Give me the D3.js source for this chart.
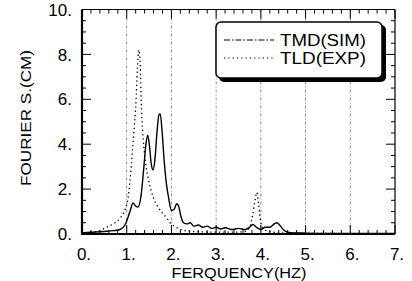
<!DOCTYPE html>
<html>
<head>
<meta charset="utf-8">
<script src="https://cdn.jsdelivr.net/npm/d3@7"></script>
<style>
  body { margin: 0; background: #fff; }
  svg { display: block; font-family: "Liberation Sans", Arial, sans-serif; }
</style>
</head>
<body>
<script>
// data
const xTicks = [0, 1, 2, 3, 4, 5, 6, 7];
const yTicks = [0, 2, 4, 6, 8, 10];
const gridX = [1, 2, 3, 4, 5, 6];

// TMD (SIM) - solid curve
const tmdFreq = [0, 0.2, 0.4, 0.55, 0.7, 0.85, 0.96, 1.03, 1.08, 1.14, 1.2, 1.25, 1.32, 1.38, 1.43, 1.47, 1.51, 1.55, 1.59, 1.63, 1.68, 1.72, 1.75, 1.79, 1.84, 1.89, 1.93, 2.0, 2.06, 2.12, 2.16, 2.21, 2.27, 2.35, 2.42, 2.5, 2.6, 2.7, 2.8, 2.9, 3.0, 3.1, 3.2, 3.35, 3.5, 3.65, 3.75, 3.82, 3.9, 4.0, 4.1, 4.2, 4.3, 4.36, 4.42, 4.5, 4.6, 4.75, 5.0, 5.5, 6.0, 6.5, 7.0];
const tmdVal  = [0.05, 0.08, 0.1, 0.12, 0.15, 0.2, 0.4, 0.75, 1.05, 1.38, 1.25, 1.2, 1.7, 2.9, 4.0, 4.4, 3.9, 3.1, 2.85, 3.3, 4.6, 5.3, 5.35, 4.6, 3.2, 2.2, 1.7, 1.05, 1.1, 1.35, 1.25, 0.8, 0.5, 0.45, 0.5, 0.35, 0.4, 0.3, 0.35, 0.25, 0.3, 0.22, 0.28, 0.2, 0.25, 0.2, 0.3, 0.42, 0.3, 0.2, 0.3, 0.3, 0.45, 0.5, 0.4, 0.2, 0.08, 0.05, 0.04, 0.03, 0.03, 0.03, 0.02];

// TLD (EXP) - dotted curve
const tldFreq = [0, 0.2, 0.4, 0.55, 0.7, 0.85, 0.96, 1.03, 1.07, 1.12, 1.17, 1.2, 1.24, 1.27, 1.3, 1.33, 1.37, 1.42, 1.5, 1.6, 1.7, 1.79, 1.9, 1.97, 2.1, 2.3, 2.6, 3.0, 3.4, 3.65, 3.75, 3.82, 3.87, 3.91, 3.95, 4.0, 4.08, 4.2, 4.5, 5.0, 6.0, 7.0];
const tldVal  = [0.05, 0.08, 0.15, 0.3, 0.45, 0.7, 1.07, 1.6, 2.3, 3.5, 4.8, 5.6, 7.4, 8.2, 7.6, 5.6, 4.2, 3.2, 2.3, 1.6, 1.2, 0.95, 0.7, 0.5, 0.3, 0.15, 0.1, 0.08, 0.08, 0.12, 0.3, 0.9, 1.5, 1.85, 1.3, 0.5, 0.2, 0.1, 0.05, 0.03, 0.02, 0.02];

const legendLabels = ["TMD(SIM)", "TLD(EXP)"];

const W = 412, H = 281;
const margin = {left: 82, right: 17, top: 9.5, bottom: 47};

const svg = d3.select("body").append("svg")
    .attr("width", W)
    .attr("height", H);

const x = d3.scaleLinear().domain([0, 7]).range([margin.left, W - margin.right]);
const y = d3.scaleLinear().domain([0, 10]).range([H - margin.bottom, margin.top]);

// grid lines (dash-dot, faint)
svg.append("g")
  .selectAll("line")
  .data(gridX)
  .join("line")
    .attr("x1", d => x(d)).attr("x2", d => x(d))
    .attr("y1", y(10)).attr("y2", y(0))
    .attr("stroke", "#555")
    .attr("stroke-width", 0.7)
    .attr("stroke-dasharray", "3,2,1,2");

// minor ticks along all four sides
const xMinor = d3.range(0, 7.001, 0.2);
const yMinor = d3.range(0, 10.001, 0.5);
const isInt = d => Math.abs(d - Math.round(d)) < 1e-6;

const ticks = svg.append("g").attr("stroke", "#000").attr("stroke-width", 1);
ticks.selectAll(".bx")
  .data(xMinor)
  .join("line")
    .attr("x1", d => x(d)).attr("x2", d => x(d))
    .attr("y1", y(0)).attr("y2", d => y(0) - (isInt(d) ? 9 : 4));
ticks.selectAll(".tx")
  .data(xMinor)
  .join("line")
    .attr("x1", d => x(d)).attr("x2", d => x(d))
    .attr("y1", y(10)).attr("y2", d => y(10) + (isInt(d) ? 9 : 4));
ticks.selectAll(".ly")
  .data(yMinor)
  .join("line")
    .attr("x1", x(0)).attr("x2", d => x(0) + (d % 2 === 0 ? 9 : 4))
    .attr("y1", d => y(d)).attr("y2", d => y(d));
ticks.selectAll(".ry")
  .data(yMinor)
  .join("line")
    .attr("x1", x(7)).attr("x2", d => x(7) - (d % 2 === 0 ? 9 : 4))
    .attr("y1", d => y(d)).attr("y2", d => y(d));

// frame
svg.append("line").attr("x1", x(0)).attr("x2", x(7)).attr("y1", y(10)).attr("y2", y(10))
    .attr("stroke", "#000").attr("stroke-width", 1.2);
svg.append("line").attr("x1", x(7)).attr("x2", x(7)).attr("y1", y(10)).attr("y2", y(0))
    .attr("stroke", "#000").attr("stroke-width", 1.2);
svg.append("line").attr("x1", x(0)).attr("x2", x(0)).attr("y1", y(10)).attr("y2", y(0) + 1)
    .attr("stroke", "#000").attr("stroke-width", 2.2);
svg.append("line").attr("x1", x(0)).attr("x2", x(7)).attr("y1", y(0)).attr("y2", y(0))
    .attr("stroke", "#000").attr("stroke-width", 2.2);

// curves
const line = d3.line()
    .x(d => x(d[0]))
    .y(d => y(d[1]))
    .curve(d3.curveMonotoneX);

svg.append("path")
    .datum(d3.zip(tldFreq, tldVal))
    .attr("d", line)
    .attr("fill", "none")
    .attr("stroke", "#000")
    .attr("stroke-width", 1.3)
    .attr("stroke-dasharray", "1.3,3");

svg.append("path")
    .datum(d3.zip(tmdFreq, tmdVal))
    .attr("d", line)
    .attr("fill", "none")
    .attr("stroke", "#000")
    .attr("stroke-width", 1.4);

// tick labels
svg.append("g")
    .attr("font-size", 17)
    .attr("text-anchor", "middle")
  .selectAll("text")
  .data(xTicks)
  .join("text")
    .attr("x", d => x(d) + 2)
    .attr("y", 260)
    .text(d => d + ".");

svg.append("g")
    .attr("font-size", 17)
    .attr("text-anchor", "end")
  .selectAll("text")
  .data(yTicks)
  .join("text")
    .attr("x", 72)
    .attr("y", d => y(d))
    .attr("dy", "0.36em")
    .text(d => d + ".");

// axis titles
svg.append("text")
    .attr("x", 239)
    .attr("y", 278)
    .attr("text-anchor", "middle")
    .attr("font-size", 14.5)
    .attr("textLength", 135)
    .attr("lengthAdjust", "spacingAndGlyphs")
    .text("FERQUENCY(HZ)");

svg.append("text")
    .attr("transform", "translate(31,118) rotate(-90)")
    .attr("text-anchor", "middle")
    .attr("font-size", 15)
    .attr("textLength", 136)
    .attr("lengthAdjust", "spacingAndGlyphs")
    .text("FOURIER S.(CM)");

// legend with drop shadow
const lg = svg.append("g");
lg.append("rect")
    .attr("x", 219).attr("y", 25).attr("width", 167).attr("height", 57)
    .attr("rx", 5).attr("fill", "#000");
lg.append("rect")
    .attr("x", 216).attr("y", 22).attr("width", 166).attr("height", 56)
    .attr("rx", 5).attr("fill", "#fff").attr("stroke", "#000").attr("stroke-width", 1.5);

const legendDash = ["6,2,1.5,2", "1.3,3"];
legendLabels.forEach((lab, i) => {
  const ly = 40 + i * 18;
  lg.append("line")
      .attr("x1", 224).attr("x2", 274)
      .attr("y1", ly).attr("y2", ly)
      .attr("stroke", "#000").attr("stroke-width", 1)
      .attr("stroke-dasharray", legendDash[i]);
  lg.append("text")
      .attr("x", 280).attr("y", ly + 6)
      .attr("font-size", 16)
      .attr("textLength", 86)
      .attr("lengthAdjust", "spacingAndGlyphs")
      .text(lab);
});
</script>
</body>
</html>
